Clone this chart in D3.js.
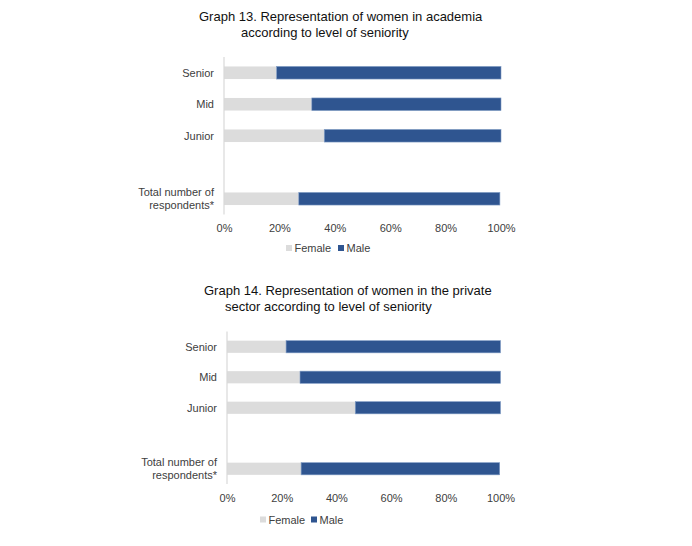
<!DOCTYPE html>
<html><head><meta charset="utf-8">
<script src="https://cdn.jsdelivr.net/npm/d3@7"></script>
<style>body{margin:0;background:#fff}svg{display:block}</style>
</head><body>
<svg id="c" width="692" height="546"></svg>
<script>
const categories = ["Senior", "Mid", "Junior", "", "Total number of|respondents*"];
const series = ["Female", "Male"];
const academiaFemale = [19, 31.7, 36.2, null, 27];
const academiaMale   = [81, 68.3, 63.8, null, 72.6];
const privateFemale  = [21.6, 26.7, 46.9, null, 27.1];
const privateMale    = [78.4, 73.3, 53.1, null, 72.6];
const tickValues = [0, 20, 40, 60, 80, 100];
const titles = [
  ["Graph 13. Representation of women in academia", "according to level of seniority"],
  ["Graph 14. Representation of women in the private", "sector according to level of seniority"]
];
const colors = {Female: "#dcdcdc", Male: "#2f5590"};

const svg = d3.select("#c");
const font = "'Liberation Sans', Arial, Helvetica, sans-serif";
const textCol = "#404040";

function draw(cfg, female, male, title) {
  const g = svg.append("g");
  // title
  g.append("text").attr("x", cfg.t1x).attr("y", cfg.t1y).text(title[0])
    .attr("font-family", font).attr("font-size", 13).attr("fill", "#111");
  g.append("text").attr("x", cfg.t2x).attr("y", cfg.t2y).text(title[1])
    .attr("font-family", font).attr("font-size", 13).attr("fill", "#111");

  const x = d3.scaleLinear().domain([0, 100]).range([cfg.x0, cfg.x1]);
  const y = d3.scaleBand().domain(categories.map((c, i) => i)).range([cfg.y0, cfg.y1]).paddingInner(0.6).paddingOuter(0.3);

  // bars
  categories.forEach((c, i) => {
    if (female[i] == null) return;
    g.append("rect").attr("x", x(0)).attr("y", y(i)).attr("width", x(female[i]) - x(0)).attr("height", y.bandwidth())
      .attr("fill", colors.Female);
    g.append("rect").attr("x", x(female[i])).attr("y", y(i)).attr("width", x(female[i] + male[i]) - x(female[i])).attr("height", y.bandwidth())
      .attr("fill", colors.Male).attr("stroke", "#7f9bc4").attr("stroke-width", 0.6);
  });

  // axis line
  g.append("line").attr("x1", x(0)).attr("x2", x(0)).attr("y1", cfg.y0).attr("y2", cfg.y1)
    .attr("stroke", "#d9d9d9").attr("stroke-width", 1.2);

  // category labels
  categories.forEach((c, i) => {
    if (!c) return;
    const lines = c.split("|");
    const cy = y(i) + y.bandwidth() / 2;
    lines.forEach((l, j) => {
      g.append("text").attr("x", x(0) - 10).attr("y", cy + 4 + (j - (lines.length - 1) / 2) * 13)
        .attr("text-anchor", "end").attr("font-family", font).attr("font-size", 11).attr("fill", textCol).text(l);
    });
  });

  // x tick labels via axis
  const ax = g.append("g").attr("transform", `translate(0,${cfg.tickY})`)
    .call(d3.axisBottom(x).tickValues(tickValues).tickFormat(d => d + "%").tickSize(0).tickPadding(0));
  ax.select(".domain").remove();
  ax.selectAll("text").attr("font-family", font).attr("font-size", 11).attr("fill", textCol).attr("dy", "0.35em").attr("y", 0);

  // legend
  const lg = g.append("g").attr("transform", `translate(${cfg.legX},${cfg.legY})`);
  const offs = [0, cfg.legGap];
  series.forEach((s, i) => {
    lg.append("rect").attr("x", offs[i]).attr("y", -3).attr("width", 6).attr("height", 6).attr("fill", colors[s]);
    lg.append("text").attr("x", offs[i] + 8.5).attr("y", 4).text(s)
      .attr("font-family", font).attr("font-size", 11).attr("fill", textCol);
  });
}

draw({t1x:199, t1y:20.5, t2x:241, t2y:36.5, x0:224, x1:501, y0:57, y1:214.5, tickY:228.5, legX:286, legY:248, legGap:52},
     academiaFemale, academiaMale, titles[0]);
draw({t1x:204, t1y:295, t2x:225, t2y:311, x0:227, x1:500.5, y0:331.5, y1:484, tickY:498.5, legX:260, legY:519.5, legGap:51},
     privateFemale, privateMale, titles[1]);
</script>
</body></html>
